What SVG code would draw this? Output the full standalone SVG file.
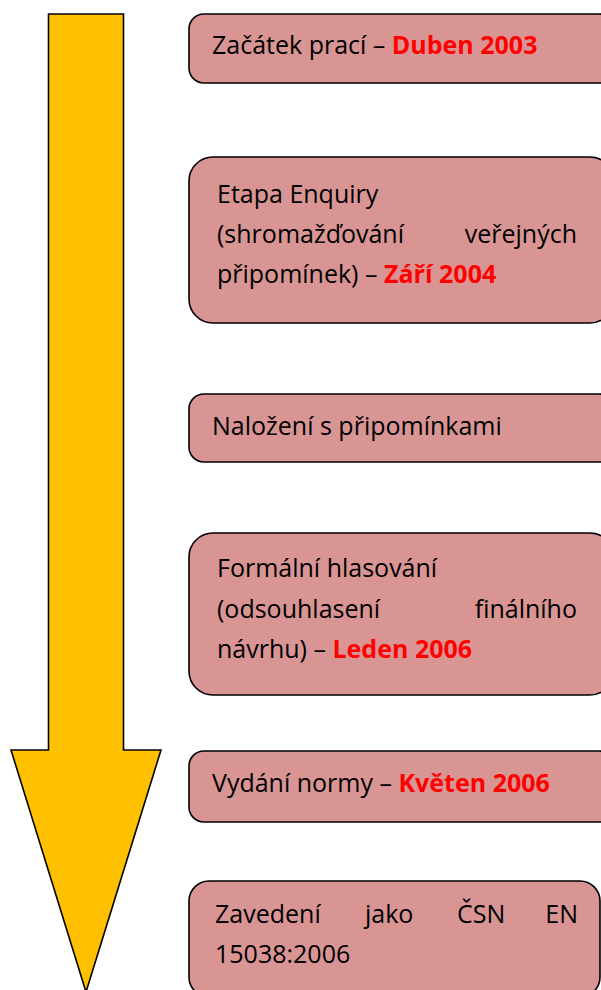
<svg xmlns="http://www.w3.org/2000/svg" width="601" height="990" viewBox="0 0 601 990">
<style>
.box{fill:#D99594;stroke:#000;stroke-width:1.6}
.t{font-family:"Open Sans","Liberation Sans",sans-serif;font-size:25px;fill:#000}
.r{fill:#FF0000;font-weight:bold}
.e{text-anchor:end}
</style>
<rect width="601" height="990" fill="#fff"/>
<g id="arrow">
<polygon points="48.5,14 123.5,14 123.5,750 161,750 86,992 11,750 48.5,750" fill="#FFC000" stroke="#000" stroke-width="1.6" stroke-linejoin="miter"/>
</g>
<g id="n1">
<rect class="box" x="189" y="14" width="425" height="69" rx="15"/>
<text class="t" x="212" y="54">Začátek prací – <tspan class="r">Duben 2003</tspan></text>
</g>
<g id="n2">
<rect class="box" x="189" y="157" width="425" height="166" rx="24"/>
<text class="t" x="217" y="203">Etapa Enquiry</text>
<text class="t" x="217" y="243">(shromažďování</text>
<text class="t e" x="577" y="243">veřejných</text>
<text class="t" x="217" y="283">připomínek) – <tspan class="r">Září 2004</tspan></text>
</g>
<g id="n3">
<rect class="box" x="189" y="394" width="425" height="68" rx="15"/>
<text class="t" x="212" y="435">Naložení s připomínkami</text>
</g>
<g id="n4">
<rect class="box" x="189" y="533" width="425" height="162" rx="24"/>
<text class="t" x="217" y="577">Formální hlasování</text>
<text class="t" x="217" y="618">(odsouhlasení</text>
<text class="t e" x="577" y="618">finálního</text>
<text class="t" x="217" y="658">návrhu) – <tspan class="r">Leden 2006</tspan></text>
</g>
<g id="n5">
<rect class="box" x="189" y="751" width="425" height="71" rx="15"/>
<text class="t" x="212" y="792">Vydání normy – <tspan class="r">Květen 2006</tspan></text>
</g>
<g id="n6">
<rect class="box" x="189" y="881" width="411" height="116" rx="20"/>
<text class="t" x="215" y="923">Zavedení</text>
<text class="t" x="365" y="923">jako</text>
<text class="t" x="457" y="923">ČSN</text>
<text class="t e" x="578" y="923">EN</text>
<text class="t" x="215" y="963">15038:2006</text>
</g>
<g id="connectors"></g>
</svg>
